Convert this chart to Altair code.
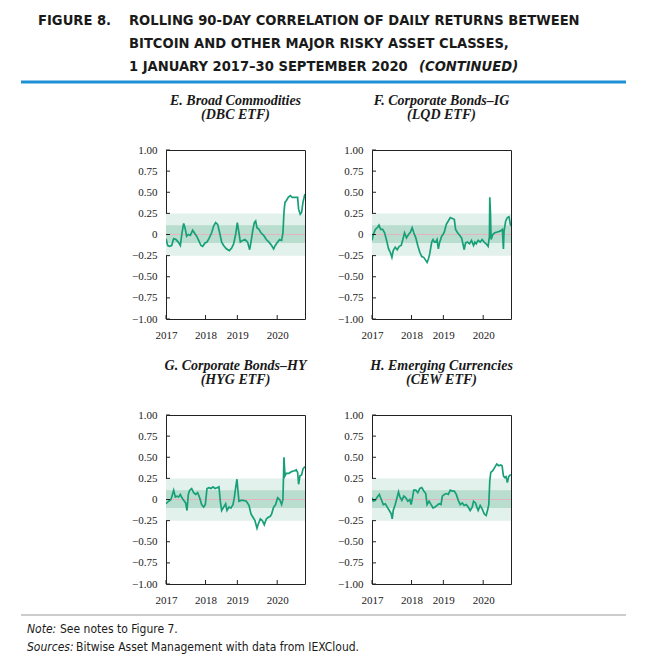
import altair as alt
import pandas as pd

# ---------------- data (months since 1 Jan 2017, rolling correlation) ----------------
e_t = [0,0.54,1.08,1.83,2.48,3.24,3.99,4.64,5.18,5.72,6.15,6.69,7.23,7.87,8.63,9.17,9.92,10.46,11.33,11.87,12.62,13.27,14.02,14.78,15.43,16.07,16.72,17.37,18.02,18.66,19.53,20.5,21.25,21.9,22.55,23.09,23.62,24.06,24.81,25.57,26.43,27.08,27.51,28.05,28.59,29.02,29.45,30.1,30.74,31.61,32.47,33.33,34.2,34.84,35.38,36.14,36.79,37.43,37.86,38.19,38.51,38.94,39.59,40.24,40.88,41.53,42.18,42.61,42.93,43.47,43.9,44.34,44.98]
e_v = [-0.05,-0.13,-0.14,-0.13,-0.05,-0.06,-0.09,-0.13,0.02,0.13,0.08,-0.02,0.0,-0.01,0.05,0.02,-0.02,-0.06,-0.13,-0.14,-0.10,-0.09,-0.04,0.02,0.10,0.14,0.12,0.02,-0.09,-0.13,-0.17,-0.19,-0.16,-0.11,0.0,0.14,0.02,-0.09,-0.07,-0.06,-0.09,-0.18,-0.09,0.04,0.14,0.16,0.08,0.06,0.02,-0.01,-0.06,-0.09,-0.13,-0.17,-0.13,-0.09,-0.06,-0.07,0.02,0.26,0.38,0.40,0.44,0.46,0.44,0.44,0.44,0.44,0.30,0.24,0.26,0.38,0.48]

f_t = [0,0.43,1.07,1.72,2.26,2.79,3.44,4.08,4.73,5.37,5.91,6.44,6.87,7.52,8.16,8.81,9.45,9.99,10.53,11.17,11.82,12.46,13.0,13.53,14.18,14.82,15.47,16.11,16.76,17.29,17.83,18.26,18.69,19.33,19.76,20.19,20.62,21.05,21.48,21.91,22.56,22.99,23.42,24.06,24.7,25.35,25.99,26.64,27.07,27.71,28.36,29.0,29.43,29.86,30.29,30.93,31.58,32.22,32.87,33.3,33.73,34.37,35.02,35.66,36.31,36.95,37.59,38.02,38.13,38.35,38.56,39.1,39.74,40.6,41.46,42.21,42.54,42.75,43.29,43.82,44.36,44.79,45.0]
f_v = [-0.07,0.0,0.06,0.08,0.11,0.06,0.06,0.02,-0.07,-0.17,-0.21,-0.27,-0.19,-0.15,-0.18,-0.14,-0.13,-0.06,0.02,-0.04,0.0,0.03,0.08,0.02,-0.04,-0.13,-0.21,-0.26,-0.27,-0.30,-0.33,-0.29,-0.23,-0.09,-0.06,-0.09,-0.09,-0.06,-0.17,-0.09,-0.02,0.0,0.03,0.12,0.16,0.20,0.19,0.18,0.06,0.02,-0.01,-0.04,-0.11,-0.18,-0.10,-0.09,-0.11,-0.07,-0.13,-0.09,-0.11,-0.07,-0.09,-0.06,-0.09,-0.11,-0.14,-0.02,0.44,0.26,-0.06,0.0,0.02,0.03,0.04,0.06,-0.17,0.04,0.16,0.20,0.21,0.12,0.10]

g_t = [0,0.86,1.62,2.48,3.02,3.56,4.1,4.64,5.18,5.72,6.36,6.8,7.23,7.66,8.31,8.95,9.6,10.25,10.9,11.54,12.19,12.73,13.27,13.92,14.56,15.21,15.86,16.5,17.15,17.58,18.02,18.66,19.31,19.74,20.39,21.04,21.68,22.11,22.55,22.98,23.3,23.62,24.27,25.13,26.0,26.86,27.51,28.16,28.8,29.45,29.88,30.53,31.18,31.82,32.47,33.12,33.76,34.2,34.84,35.49,36.14,36.79,37.43,37.86,38.19,38.51,38.94,39.81,40.67,41.53,42.18,42.61,42.93,43.37,43.9,44.34,44.98]
g_v = [-0.05,-0.02,0.0,0.11,0.03,0.04,0.03,0.06,0.02,-0.01,-0.04,-0.13,0.06,0.11,0.13,0.08,0.06,0.08,0.02,-0.06,-0.09,-0.06,0.13,0.14,0.13,0.15,0.13,0.14,0.15,-0.02,-0.13,-0.09,-0.05,-0.13,-0.09,-0.10,-0.06,0.02,0.14,0.24,0.10,-0.02,-0.01,-0.01,-0.02,-0.07,-0.17,-0.21,-0.25,-0.34,-0.29,-0.23,-0.25,-0.30,-0.23,-0.21,-0.20,-0.17,-0.09,-0.06,0.02,0.0,-0.06,0.0,0.50,0.28,0.31,0.31,0.33,0.34,0.35,0.32,0.18,0.28,0.29,0.36,0.39]

h_t = [0,0.43,1.07,1.72,2.36,3.01,3.65,4.3,4.94,5.59,6.23,6.55,6.87,7.52,8.16,8.59,9.02,9.67,10.31,10.96,11.6,12.24,12.67,13.1,13.53,14.18,14.82,15.47,16.11,16.76,17.4,17.83,18.47,19.12,19.76,20.41,21.05,21.7,22.34,22.77,23.42,24.06,24.7,25.35,25.99,26.64,27.28,27.93,28.57,29.22,29.86,30.5,31.15,31.79,32.44,32.87,33.51,33.94,34.37,35.02,35.66,36.31,36.95,37.38,37.81,38.13,38.45,39.1,39.74,40.39,41.03,41.68,42.11,42.54,42.97,43.4,43.82,44.25,44.68,45.0]
h_v = [0.02,-0.02,-0.01,0.03,0.06,0.0,-0.06,-0.05,-0.09,-0.13,-0.17,-0.23,-0.13,-0.06,0.03,0.09,0.03,-0.01,0.04,0.02,-0.02,0.0,-0.06,0.02,0.11,0.11,0.08,0.13,0.14,0.10,0.07,-0.06,-0.02,-0.06,-0.10,-0.09,-0.07,-0.05,-0.06,0.04,0.06,0.07,0.06,0.11,0.10,0.10,0.06,-0.01,-0.06,-0.04,-0.07,-0.06,-0.09,-0.13,-0.09,-0.02,-0.04,-0.09,-0.13,-0.07,-0.11,-0.17,-0.19,-0.13,-0.06,0.22,0.32,0.34,0.38,0.42,0.40,0.41,0.40,0.28,0.26,0.27,0.20,0.27,0.29,0.29]

panel_titles = [
    ["E. Broad Commodities", "(DBC ETF)"],
    ["F. Corporate Bonds\u2013IG", "(LQD ETF)"],
    ["G. Corporate Bonds\u2013HY", "(HYG ETF)"],
    ["H. Emerging Currencies", "(CEW ETF)"],
]

x_tick_pos = [0, 12.8, 23.1, 36]
x_tick_labels = ["2017", "2018", "2019", "2020"]
y_ticks = [-1, -0.75, -0.5, -0.25, 0, 0.25, 0.5, 0.75, 1]
band_outer = [-0.25, 0.25]
band_inner = [-0.10, 0.11]

figure_label = "FIGURE 8."
title_lines = [
    "ROLLING 90-DAY CORRELATION OF DAILY RETURNS BETWEEN",
    "BITCOIN AND OTHER MAJOR RISKY ASSET CLASSES,",
    "1 JANUARY 2017\u201330 SEPTEMBER 2020",
]
title_tail = "(CONTINUED)"
note_label, note_text = "Note:", "See notes to Figure 7."
src_label, src_text = "Sources:", "Bitwise Asset Management with data from IEXCloud."

# ---------------- styling ----------------
W, H = 139, 169
SERIF = "Liberation Serif"
COND = "Liberation Sans Narrow, DejaVu Sans Condensed, Roboto"
LINE_C = "#17a078"
LIGHT_C = "#e2f1eb"
DARK_C = "#b9ddcf"
ZERO_C = "#e4b3bd"
FRAME_C = "#222222"
TXT_C = "#1a1a1a"

xs = alt.Scale(domain=[0, 45], nice=False, zero=False)
ys = alt.Scale(domain=[-1, 1], nice=False, zero=False)

pos_str = "[" + ",".join(str(p) for p in x_tick_pos) + "]"
lab_str = "[" + ",".join("'" + s + "'" for s in x_tick_labels) + "]"
x_axis = alt.Axis(values=x_tick_pos, labelExpr=f"{lab_str}[indexof({pos_str}, datum.value)]",
                  title=None, grid=False, domain=False, ticks=False, tickSize=0,
                  labelFont=SERIF, labelFontSize=11, labelColor=TXT_C, labelPadding=10,
                  labelFlush=False, labelOverlap=False)
y_axis = alt.Axis(values=y_ticks,
                  labelExpr="datum.value == 0 ? '0' : replace(format(datum.value, '.2f'), '-', '\u2212')",
                  title=None, grid=False, domain=False, ticks=False, tickSize=0,
                  labelFont=SERIF, labelFontSize=11, labelColor=TXT_C, labelPadding=9,
                  labelFlush=False, labelOverlap=False)

X_T = alt.X("t:Q", scale=xs, axis=x_axis)
Y_V = alt.Y("v:Q", scale=ys, axis=y_axis)


def txt(s, x, y, size=14.6, weight="bold", style="normal", font=COND, color=TXT_C,
        align="left", baseline="middle"):
    return alt.Chart(pd.DataFrame({"s": [s]})).mark_text(
        align=align, baseline=baseline, font=font, fontSize=size, fontWeight=weight,
        fontStyle=style, color=color).encode(text="s:N", x=alt.value(x), y=alt.value(y))


def hrule(x1, x2, y, color, width, opacity=1.0):
    return alt.Chart(pd.DataFrame({"a": [0]})).mark_rule(
        color=color, strokeWidth=width, strokeOpacity=opacity).encode(
        x=alt.value(x1), x2=alt.value(x2), y=alt.value(y))


def panel(title, t, v, extra=()):
    df = pd.DataFrame({"t": t, "v": v})
    outer = alt.Chart(pd.DataFrame({"lo": [band_outer[0]], "hi": [band_outer[1]]})).mark_rect(
        color=LIGHT_C).encode(y=alt.Y("lo:Q", scale=ys, axis=y_axis), y2="hi:Q",
                              x=alt.value(0), x2=alt.value(W))
    inner = alt.Chart(pd.DataFrame({"lo": [band_inner[0]], "hi": [band_inner[1]]})).mark_rect(
        color=DARK_C).encode(y=alt.Y("lo:Q", scale=ys, axis=y_axis), y2="hi:Q",
                             x=alt.value(0), x2=alt.value(W))
    zero = alt.Chart(pd.DataFrame({"z": [0]})).mark_rule(color=ZERO_C, strokeWidth=1).encode(
        y=alt.Y("z:Q", scale=ys, axis=y_axis))
    line = alt.Chart(df).mark_line(color=LINE_C, strokeWidth=1.7, clip=True).encode(x=X_T, y=Y_V)
    xt = alt.Chart(pd.DataFrame({"p": x_tick_pos})).mark_rule(color=FRAME_C, strokeWidth=1).encode(
        x=alt.X("p:Q", scale=xs, axis=x_axis), y=alt.value(H), y2=alt.value(H - 4))
    yt = alt.Chart(pd.DataFrame({"p": y_ticks})).mark_rule(color=FRAME_C, strokeWidth=1).encode(
        y=alt.Y("p:Q", scale=ys, axis=y_axis), x=alt.value(0), x2=alt.value(4))
    t1 = txt(title[0], W / 2, -45, size=14, weight="bold", style="italic", font=SERIF,
             align="center", baseline="alphabetic")
    t2 = txt(title[1], W / 2, -31, size=14, weight="bold", style="italic", font=SERIF,
             align="center", baseline="alphabetic")
    return alt.layer(outer, inner, zero, line, xt, yt, t1, t2, *extra).properties(
        width=W, height=H,
        view=alt.ViewBackground(stroke=FRAME_C, strokeWidth=1),
    )


# header marks, placed relative to the top-left corner of panel E
header = [
    hrule(-157, 0, -141, "#ffffff", 1, opacity=0.0),   # anchors the page's top-left corner
    txt(figure_label, -128, -129),
    txt(title_lines[0], -37, -129),
    txt(title_lines[1], -37, -106),
    txt(title_lines[2], -37, -83),
    txt(title_tail, 253, -83, style="italic"),
    hrule(-145, 460, -68, "#1e90d6", 3),
]

# footer marks, placed relative to the top-left corner of panel G
footer = [
    hrule(-145, 460, 200, "#9a9a9a", 1),
    txt(note_label, -139, 214, size=12, weight="normal", style="italic"),
    txt(note_text, -106, 214, size=12, weight="normal"),
    txt(src_label, -139, 232, size=12, weight="normal", style="italic"),
    txt(src_text, -90, 232, size=12, weight="normal"),
]

chart = alt.concat(
    panel(panel_titles[0], e_t, e_v, header),
    panel(panel_titles[1], f_t, f_v),
    panel(panel_titles[2], g_t, g_v, footer),
    panel(panel_titles[3], h_t, h_v),
    columns=2, spacing={"row": 96, "column": 67}, bounds="flush",
).properties(
    padding={"left": 0, "top": 0, "right": 4, "bottom": 0},
    background="white",
).configure_view(strokeWidth=0)

chart.save("out.html", embed_options={"renderer": "svg", "actions": False})
